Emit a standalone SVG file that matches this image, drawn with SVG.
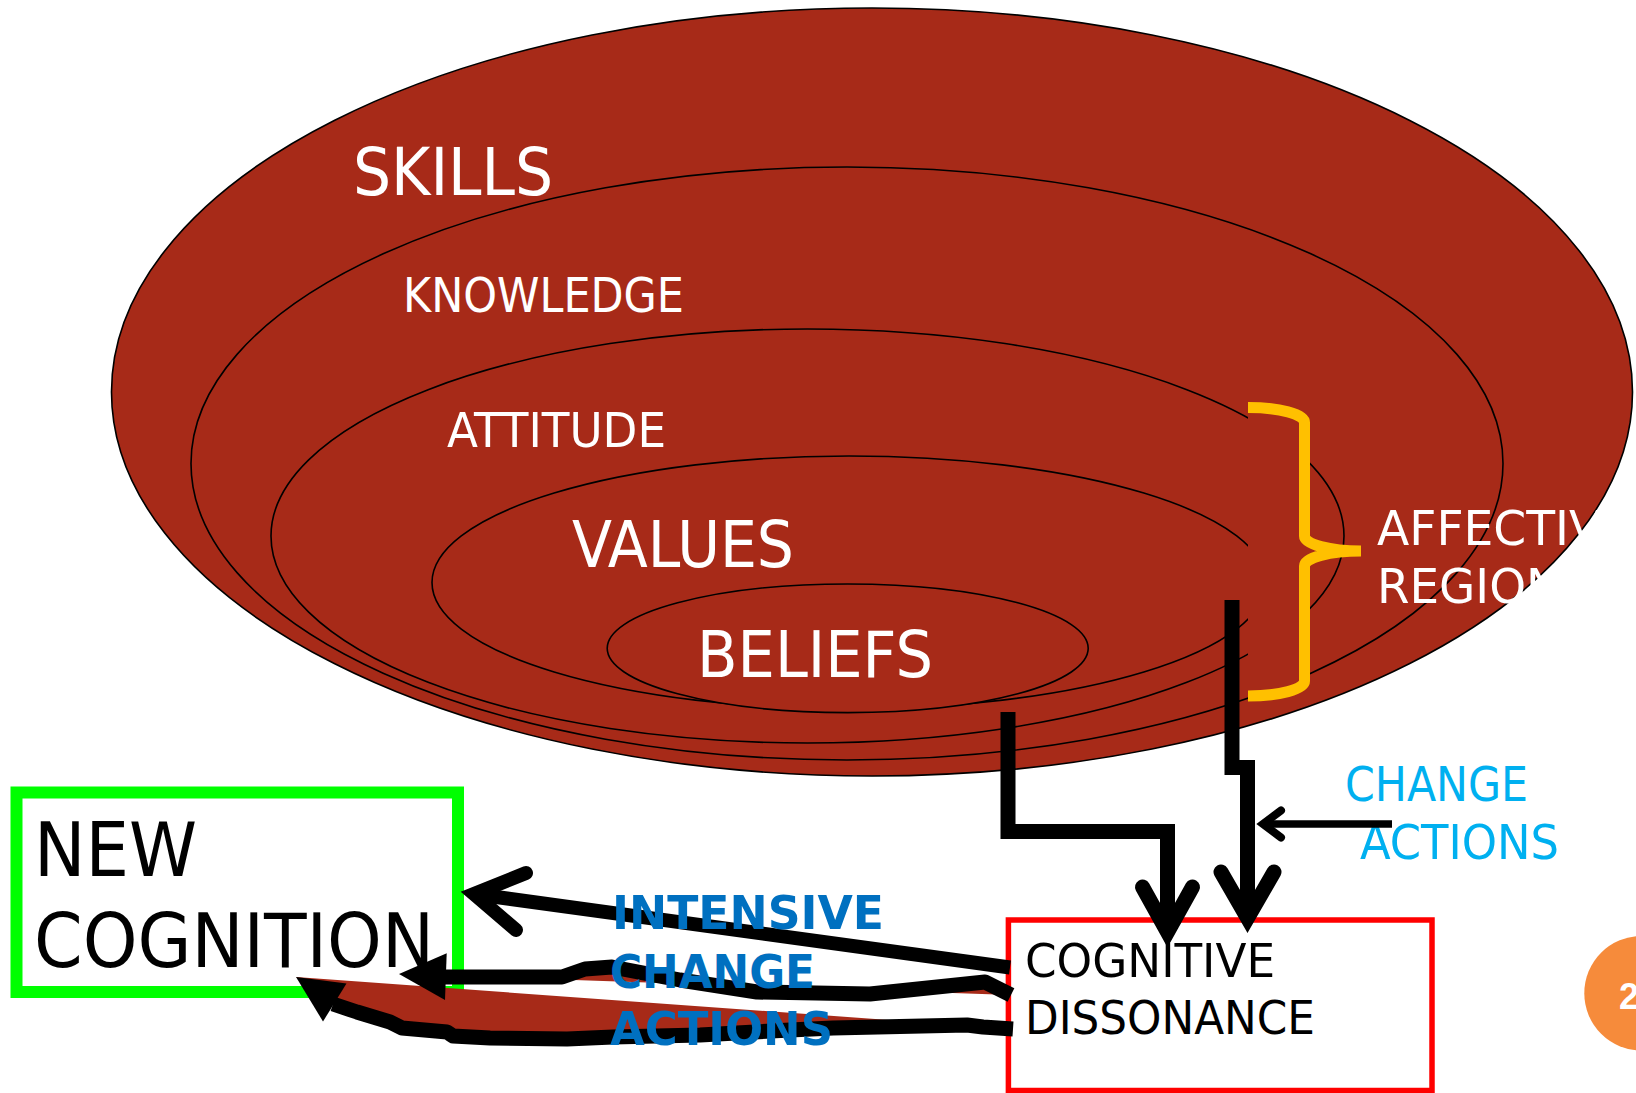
<svg xmlns="http://www.w3.org/2000/svg" width="1636" height="1093" viewBox="0 0 1636 1093">
  <style>
    .ring { fill: #a72a18; stroke: #000; stroke-width: 1.6; }
    .lbl { font-family: 'DejaVu Sans Condensed', 'DejaVu Sans', sans-serif; font-stretch: condensed; }
    .white { fill: #fff; }
    .black { fill: #000; }
    .sky { fill: #00b0f0; }
    .bold { font-family: 'DejaVu Sans Condensed', 'DejaVu Sans', sans-serif; font-stretch: condensed; font-weight: bold; fill: #0070c0; }
    .pipe { fill: none; stroke: #000; stroke-width: 15; stroke-linejoin: miter; }
    .head { fill: none; stroke: #000; stroke-width: 15; stroke-linecap: round; stroke-linejoin: miter; }
    .scribble { fill: none; stroke: #000; stroke-width: 15; stroke-linejoin: round; }
    .wedge { fill: #a72a18; stroke: none; }
  </style>
  <rect width="1636" height="1093" fill="#fff"/>

  <!-- nested layers -->
  <g id="skills">
    <ellipse class="ring" cx="872" cy="392" rx="760.5" ry="384"/>
    <text class="lbl white" x="353" y="195" font-size="66" textLength="200" lengthAdjust="spacingAndGlyphs">SKILLS</text>
  </g>
  <g id="knowledge">
    <ellipse class="ring" cx="847" cy="463.5" rx="656" ry="296.5"/>
    <text class="lbl white" x="403" y="312" font-size="48" textLength="281" lengthAdjust="spacingAndGlyphs">KNOWLEDGE</text>
  </g>
  <g id="attitude">
    <ellipse class="ring" cx="807.5" cy="536" rx="536.5" ry="207"/>
    <text class="lbl white" x="447" y="446.5" font-size="48" textLength="219" lengthAdjust="spacingAndGlyphs">ATTITUDE</text>
  </g>
  <g id="values">
    <ellipse class="ring" cx="849" cy="582.5" rx="417" ry="126.5"/>
    <text class="lbl white" x="572" y="567" font-size="64" textLength="222" lengthAdjust="spacingAndGlyphs">VALUES</text>
  </g>
  <g id="beliefs">
    <ellipse class="ring" cx="847.7" cy="648.3" rx="240.5" ry="64.3"/>
    <text class="lbl white" x="697" y="677" font-size="64" textLength="236" lengthAdjust="spacingAndGlyphs">BELIEFS</text>
  </g>

  <!-- affective region brace (filled, open on the left) -->
  <g id="affective-region">
    <path d="M1248,407.5 A56.5,15 0 0 1 1304.5,422.5 L1304.5,536 A56.5,15 0 0 0 1361,551 A56.5,15 0 0 0 1304.5,566 L1304.5,681 A56.5,15 0 0 1 1248,696" fill="#a72a18" stroke="#ffc000" stroke-width="11"/>
    <text class="lbl white" x="1377" y="545" font-size="48" textLength="254" lengthAdjust="spacingAndGlyphs">AFFECTIVE</text>
    <text class="lbl white" x="1377" y="603" font-size="48" textLength="184" lengthAdjust="spacingAndGlyphs">REGION</text>
  </g>

  <g id="change-actions">
    <text class="lbl sky" x="1345" y="800.5" font-size="48" textLength="183" lengthAdjust="spacingAndGlyphs">CHANGE</text>
    <text class="lbl sky" x="1360" y="859" font-size="48" textLength="199" lengthAdjust="spacingAndGlyphs">ACTIONS</text>
  </g>

  <g id="new-cognition">
    <rect x="16.5" y="792.5" width="441.5" height="199.5" fill="#fff" stroke="#00ff00" stroke-width="12"/>
    <text class="lbl black" x="34" y="876.3" font-size="74" textLength="163" lengthAdjust="spacingAndGlyphs">NEW</text>
    <text class="lbl black" x="34" y="966.5" font-size="74" textLength="400" lengthAdjust="spacingAndGlyphs">COGNITION</text>
  </g>

  <g id="cognitive-dissonance">
    <rect x="1008.4" y="920" width="423.6" height="170.5" fill="#fff" stroke="#ff0000" stroke-width="5.5"/>
    <text class="lbl black" x="1025" y="976.5" font-size="46" textLength="250" lengthAdjust="spacingAndGlyphs">COGNITIVE</text>
    <text class="lbl black" x="1025" y="1034.3" font-size="46" textLength="290" lengthAdjust="spacingAndGlyphs">DISSONANCE</text>
  </g>

  <g id="connectors">
    <!-- from the layers down into the dissonance box -->
    <path class="pipe" d="M1008,712 V831.5 H1167.5 V932"/>
    <polyline class="head" points="1142.5,887 1167.5,932 1192.5,887"/>
    <path class="pipe" d="M1232,600 V767.5 H1247.5 V918"/>
    <polyline class="head" points="1221,872 1247.5,918 1274,872"/>
    <!-- change actions pointer -->
    <line x1="1392" y1="824" x2="1262" y2="824" stroke="#000" stroke-width="7.5"/>
    <polyline points="1281,810.5 1263,824 1281,837.5" fill="none" stroke="#000" stroke-width="8" stroke-linecap="round"/>

    <!-- lowest hand-drawn arrow -->
    <path class="wedge" d="M1013,1029 L983,1027 L967,1025 L833,1028 L790,1030 L700,1035 L613,1037 L567,1039 L490,1038 L453,1036 L447,1032 L402,1028 L390,1022 L357,1012 L337,1006 L296,977 Z"/>
    <path class="scribble" d="M1013,1029 L983,1027 L967,1025 L833,1028 L790,1030 L700,1035 L613,1037 L567,1039 L490,1038 L453,1036 L447,1032 L402,1028 L390,1022 L357,1012 L333,1004"/>
    <polygon points="296,977 346.5,983.5 323,1021.5" fill="#000"/>

    <!-- middle hand-drawn arrow -->
    <path class="wedge" d="M1011,995 L985,982 L870,994 L757,992 L680,980 L612,967 L585,969 L562,977 L447,977 L399,974 Z"/>
    <path class="scribble" d="M1011,995 L985,982 L870,994 L757,992 L680,980 L612,967 L585,969 L562,977 L442,977"/>
    <polygon points="399,974 446.7,953.3 445,1000" fill="#000"/>

    <!-- straight arrow -->
    <line x1="1010" y1="967.5" x2="474" y2="894" stroke="#000" stroke-width="14"/>
    <polyline points="526,873 474,894 516,930" fill="none" stroke="#000" stroke-width="14" stroke-linecap="round"/>
  </g>

  <g id="intensive-change-actions">
    <text class="bold" x="612" y="929" font-size="47" textLength="272" lengthAdjust="spacingAndGlyphs">INTENSIVE</text>
    <text class="bold" x="610" y="987.5" font-size="47" textLength="205" lengthAdjust="spacingAndGlyphs">CHANGE</text>
    <text class="bold" x="610" y="1044.5" font-size="47" textLength="223" lengthAdjust="spacingAndGlyphs">ACTIONS</text>
  </g>

  <g id="page-number">
    <circle cx="1641.6" cy="993.3" r="57.3" fill="#f68b3b"/>
    <text x="1619" y="1009.3" font-family="'Liberation Sans', Arial, sans-serif" font-weight="bold" font-size="36" fill="#fff">2</text>
  </g>
</svg>
